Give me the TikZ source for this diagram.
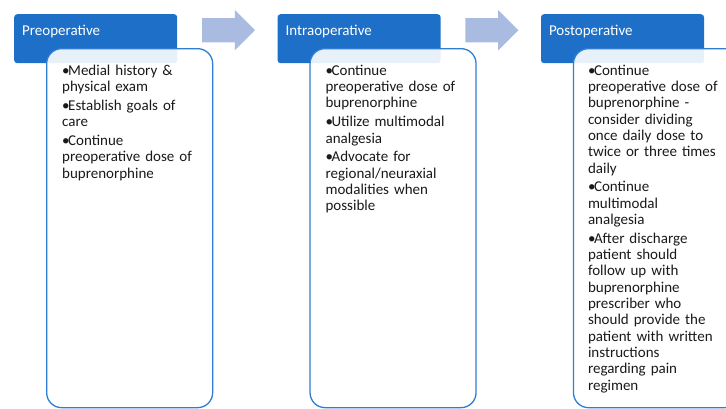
\documentclass[tikz,border=0pt]{standalone}
\usepackage{fontspec}
\setmainfont{Carlito}
\usetikzlibrary{shapes.arrows,positioning,calc}

\definecolor{hdblue}{HTML}{1E6FC8}
\definecolor{lineblue}{HTML}{2E7ED6}
\definecolor{arrowblue}{HTML}{A9BBE0}
\definecolor{txtgray}{HTML}{1A1A1A}

% bullet item with hanging indent
\newcommand{\pitem}{\par\addvspace{2.5pt}\noindent\hangindent=6pt\hangafter=1\makebox[6pt][l]{\textbullet}}

\begin{document}
\begin{tikzpicture}[x=1pt, y=-1pt]
    % Styles
    \tikzstyle{header} = [rectangle, fill=hdblue, rounded corners=3pt, text=white, text width=147pt, align=left, inner xsep=8pt, inner ysep=0pt, text height=21pt, text depth=28pt, font=\fontsize{15}{16}\selectfont]
    \tikzstyle{body} = [rectangle, draw=lineblue, line width=1.3pt, fill=white, fill opacity=0.9, draw opacity=1, rounded corners=15pt, minimum width=166pt, minimum height=359pt, anchor=north west]
    \tikzstyle{items} = [anchor=base west, inner sep=0pt, text width=156pt, align=left, text=txtgray, font=\fontsize{15}{16.3}\selectfont]
    \tikzstyle{phase} = [single arrow, fill=arrowblue, draw=none, minimum height=53pt, single arrow head extend=8pt, inner xsep=0pt, inner ysep=12pt]

    \useasboundingbox (0,0) rectangle (726,408);
    \clip (0,0) rectangle (726,408);

    % Headers
    \node [header, anchor=north west] (hd1) at (14,14) {Preoperative};
    \node [header, right=100pt of hd1] (hd2) {Intraoperative};
    \node [header, right=100pt of hd2] (hd3) {Postoperative};

    % Bodies
    \node [body] (bd1) at ([xshift=32pt, yshift=-34pt]hd1.north west) {};
    \node [body] (bd2) at ([xshift=32pt, yshift=-34pt]hd2.north west) {};
    \node [body] (bd3) at ([xshift=32pt, yshift=-34pt]hd3.north west) {};

    % Bullet lists
    \node [items] (t1) at ([xshift=16pt, yshift=-8.5pt]bd1.north west) {%
        \pitem Medial history \&\\ physical exam
        \pitem Establish goals of\\ care
        \pitem Continue\\ preoperative dose of\\ buprenorphine};
    \node [items] (t2) at ([xshift=16pt, yshift=-8.5pt]bd2.north west) {%
        \pitem Continue\\ preoperative dose of\\ buprenorphine
        \pitem Utilize multimodal\\ analgesia
        \pitem Advocate for\\ regional/neuraxial\\ modalities when\\ possible};
    \node [items] (t3) at ([xshift=15pt, yshift=-8.5pt]bd3.north west) {%
        \pitem Continue\\ preoperative dose of\\ buprenorphine -\\ consider dividing\\ once daily dose to\\ twice or three times\\ daily
        \pitem Continue\\ multimodal\\ analgesia
        \pitem After discharge\\ patient should\\ follow up with\\ buprenorphine\\ prescriber who\\ should provide the\\ patient with written\\ instructions\\ regarding pain\\ regimen};

    % Arrows
    \node [phase] (ar1) at ($(hd1.east)!0.5!(hd2.west)+(-5,-8.5)$) {};
    \node [phase] (ar2) at ($(hd2.east)!0.5!(hd3.west)+(-5,-8.5)$) {};
\end{tikzpicture}
\end{document}
